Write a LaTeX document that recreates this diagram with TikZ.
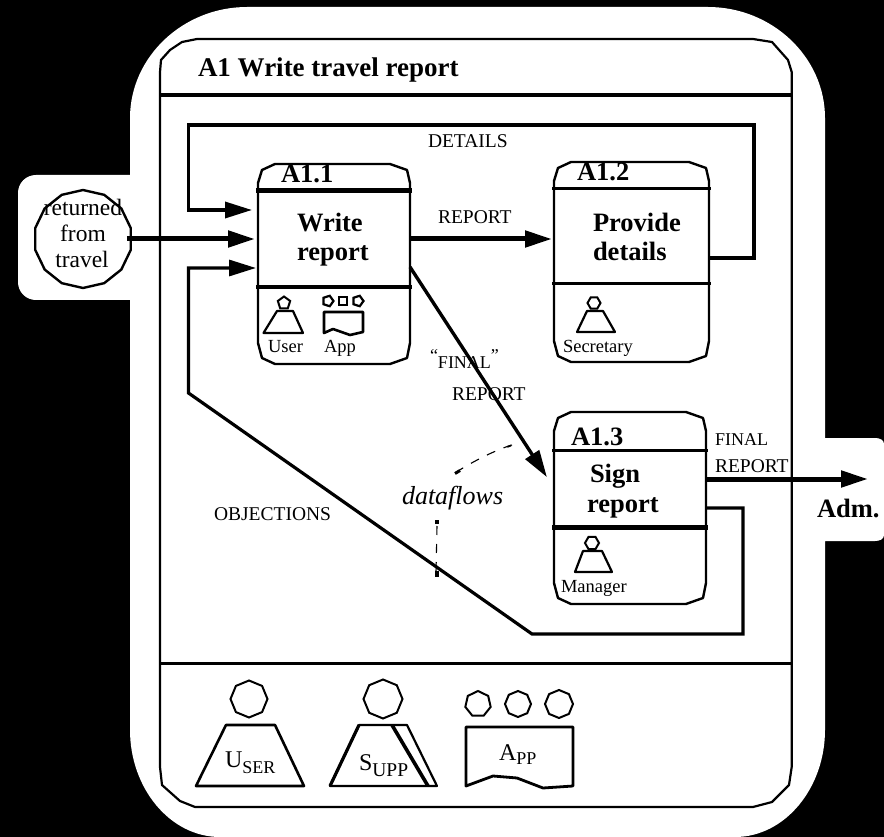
\documentclass[tikz,border=0pt]{standalone}
\usepackage{fontspec}
\setmainfont{Liberation Serif}
\usetikzlibrary{arrows.meta,shapes.geometric}
\newcommand{\fz}[1]{\fontsize{#1}{#1}\selectfont}
\newcommand{\procbox}[1]{%
  \draw[boxline] ([yshift=-19pt]#1.north west) -- ([xshift=4pt,yshift=-6pt]#1.north west)
    -- ([xshift=17pt]#1.north west) -- ([xshift=-20pt]#1.north east)
    -- ([xshift=-3pt,yshift=-6pt]#1.north east) -- ([yshift=-19pt]#1.north east)
    -- ([yshift=21pt]#1.south east) -- ([xshift=-3pt,yshift=6pt]#1.south east)
    -- ([xshift=-20pt]#1.south east) -- ([xshift=17pt]#1.south west)
    -- ([xshift=4pt,yshift=6pt]#1.south west) -- ([yshift=21pt]#1.south west) -- cycle;
}
\tikzset{
  x=1pt,y=-1pt,
  boxline/.style={line width=2.4pt,line join=round},
  procarea/.style={rectangle,inner sep=0pt,outer sep=0pt},
  txt/.style={anchor=base west,inner sep=0pt,outer sep=0pt,text=black},
  boldbig/.style={txt,font=\bfseries\fz{26.5}},
  flowlabel/.style={txt,font=\fz{19.5}},
  roletext/.style={txt,font=\fz{18.5}},
  flow/.style={line width=3.4pt,line join=miter,-{Triangle[length=27pt,width=16pt]}},
  mainflow/.style={flow,line width=5pt},
  feedback/.style={line width=3.2pt,line join=miter},
  icon/.style={line width=2.2pt,line join=round},
  head/.style={regular polygon,regular polygon sides=#1,draw,inner sep=0pt,outer sep=0pt,line width=2pt},
  note/.style={line width=1.1pt,dash pattern=on 9pt off 9pt},
  notemark/.style={line width=4pt}
}
\begin{document}
\begin{tikzpicture}
\useasboundingbox (0,0) rectangle (884,837);
% black page and white silhouette
\fill[black] (0,0) rectangle (884,837);
\fill[white] (247,7) -- (708,7) .. controls (772,7) and (825,57) .. (825,118)
  -- (825,438) -- (875,438) .. controls (880,438) and (884,440) .. (884,444)
  -- (884,535) .. controls (884,539) and (880,541) .. (875,541) -- (825,541)
  -- (825,730) .. controls (825,788) and (785,837) .. (735,837)
  -- (220,837) .. controls (170,837) and (130,788) .. (130,730)
  -- (130,300) -- (36,300) .. controls (26,300) and (18,292) .. (18,282)
  -- (18,193) .. controls (18,183) and (26,175) .. (36,175) -- (130,175)
  -- (130,118) .. controls (130,57) and (183,7) .. (247,7) -- cycle;
% outer frame
\draw[line width=2.2pt,line join=round,fill=white] (197,39) -- (753,39) -- (772,42) -- (788,60) -- (791.7,72)
  -- (791.7,767) -- (789,785) -- (772,802) -- (753,807)
  -- (195,807) -- (180,801) -- (162,785) -- (160,767) -- (160,72) -- (161,60) -- (170,50) -- (182,42) -- cycle;
\draw[line width=3.6pt] (160,95) -- (791.7,95);
\draw[line width=3pt] (160,663) -- (791.7,663);
\node[boldbig,font=\bfseries\fz{27}] (title) at (198,77) {A1 Write travel report};
% process areas
\node[procarea,minimum width=152pt,minimum height=200pt] (a11) at (334,264) {};
\node[procarea,minimum width=155pt,minimum height=200pt] (a12) at (631.5,262) {};
\node[procarea,minimum width=152pt,minimum height=192pt] (a13) at (630,508) {};
\procbox{a11}
\procbox{a12}
\procbox{a13}
\draw[line width=5pt] (256,191) -- (412,191);
\draw[line width=4pt] (256,287) -- (412,287);
\draw[line width=3pt] (552,189) -- (711,189);
\draw[line width=3pt] (552,284) -- (711,284);
\draw[line width=3pt] (552,450) -- (708,450);
\draw[line width=5pt] (552,527) -- (708,527);
% box labels
\node[boldbig] (l11) at (281,183) {A1.1};
\node[boldbig] (l12) at (577,181) {A1.2};
\node[boldbig] (l13) at (571,445) {A1.3};
\node[boldbig] (w1) at (297,232) {Write};
\node[boldbig] (w2) at (297,261) {report};
\node[boldbig] (p1) at (593,232) {Provide};
\node[boldbig] (p2) at (593,261) {details};
\node[boldbig] (s1) at (590,482) {Sign};
\node[boldbig] (s2) at (587,512) {report};
\node[roletext] (ru) at (268,352) {User};
\node[roletext] (ra) at (324,352) {App};
\node[roletext] (rs) at (563,352) {Secretary};
\node[roletext] (rm) at (561,592) {Manager};
% small icons
\node[head=5,minimum size=13pt,line width=2pt] (hu) at (284,303) {};
\draw[icon] (277,311) -- (293,311) -- (303,333) -- (263.5,333) -- cycle;
\node[head=5,minimum size=11pt,line width=2.2pt,shape border rotate=-90] (ha1) at (328,301) {};
\node[head=4,minimum size=12pt,line width=2.2pt] (ha2) at (343,301) {};
\node[head=5,minimum size=11pt,line width=2.2pt,shape border rotate=-90] (ha3) at (358,301) {};
\draw[line width=2.6pt,line join=round] (324,333) -- (324,312) -- (363,312) -- (363,332) -- (350,335) -- (333,329) -- cycle;
\node[head=6,minimum size=13pt,line width=2pt] (hs) at (594,303) {};
\draw[icon] (587,311) -- (603,311) -- (615,332) -- (577,332) -- cycle;
\node[head=6,minimum size=14pt,line width=2pt] (hm) at (592,543) {};
\draw[icon] (583,551) -- (602,551) -- (612,572) -- (575,572) -- cycle;
% start and end
\node[head=14,minimum size=98pt,line width=2.4pt,shape border rotate=12.86] (start) at (83,239) {};
\node[txt,font=\fz{23.5},anchor=base] (st1) at (83,216) {returned};
\node[txt,font=\fz{23.5},anchor=base] (st2) at (83,242) {from};
\node[txt,font=\fz{23.5},anchor=base] (st3) at (82,268) {travel};
\node[boldbig] (adm) at (817,517) {Adm.};
\coordinate (admtip) at (868,479);
% flow labels
\node[flowlabel] (fdet) at (428,148) {DETAILS};
\node[flowlabel] (frep) at (438,224) {REPORT};
\node[flowlabel,font=\fz{18}] (ffin) at (430,368) {\raisebox{7pt}{“}FINAL\raisebox{7pt}{”}};
\node[flowlabel] (frep2) at (452,400) {REPORT};
\node[flowlabel,font=\fz{18}] (ffin2) at (715,445) {FINAL};
\node[flowlabel] (frep3) at (715,472) {REPORT};
\node[flowlabel] (fobj) at (214,520) {OBJECTIONS};
\node[txt,font=\itshape\fz{26}] (dfl) at (402,504) {dataflows};
% connectors
\draw[feedback,line width=3.4pt,-{Triangle[length=27pt,width=16pt]},shorten >=6pt]
  (a12.east |- 0,258) -- (754,258) -- (754,125) -- (188.5,125) -- (188.5,210) -- (a11.west |- 0,210);
\draw[mainflow,shorten >=3pt,shorten <=-4pt] (start.east) -- (a11.west |- start.east);
\draw[feedback,-{Triangle[length=27pt,width=16pt]},shorten >=2pt]
  (a13.east |- 0,508) -- (743,508) -- (743,634) -- (532,634) -- (188.5,393) -- (188.5,268) -- (a11.west |- 0,268);
\draw[mainflow,shorten >=2pt] (a11.east |- 0,239) -- (a12.west |- 0,239);
\draw[flow,shorten >=13pt] (a11.east |- 0,267) -- (a13.west |- 0,488);
\draw[mainflow] (a13.east |- 0,479) -- (admtip);
% dataflow pointers
\draw[note] (512,445) .. controls (495,450) and (470,463) .. (455,473);
\draw[note,line width=1.8pt,dash pattern=on 4pt off 20pt] (511,445.5) -- (507,447);
\draw[notemark,line width=3pt] (455,473.5) -- (460,470.5);
\draw[note] (437,526) -- (436,572);
\draw[notemark] (437,520) -- (437,524);
\draw[notemark] (437,571) -- (437,577);
% bottom legend
\node[head=8,minimum size=37pt,shape border rotate=22.5] (hU) at (249,699) {};
\draw[line width=2.6pt,line join=round] (226,725) -- (275,725) -- (304,786) -- (196,786) -- cycle;
\node[txt,font=\fz{24}] (tU) at (225,767) {U\raisebox{-6pt}{\fz{18}SER}};
\node[head=8,minimum size=39pt,shape border rotate=22.5] (hS) at (383,699) {};
\draw[line width=2.2pt,line join=round] (359,725) -- (407,725) -- (437,786) -- (330,786) -- cycle;
\draw[line width=3.2pt] (359,725) -- (330,786);
\draw[line width=3.6pt] (392,725) -- (428,786);
\node[txt,font=\fz{24}] (tS) at (359,770) {S\raisebox{-6pt}{\fz{19.5}UPP}};
\node[head=7,minimum size=26pt] (hA1) at (478,704) {};
\node[head=8,minimum size=26pt,shape border rotate=22.5] (hA2) at (518,704) {};
\node[head=8,minimum size=28pt,shape border rotate=22.5] (hA3) at (559,704) {};
\draw[line width=2.8pt,line join=round] (466,786) -- (466,727) -- (573,727) -- (573,786) -- (543,788) -- (517,778) -- (493,776) -- cycle;
\node[txt,font=\fz{24}] (tA) at (499,760) {A\raisebox{-4pt}{\fz{18}PP}};
\end{tikzpicture}
\end{document}
